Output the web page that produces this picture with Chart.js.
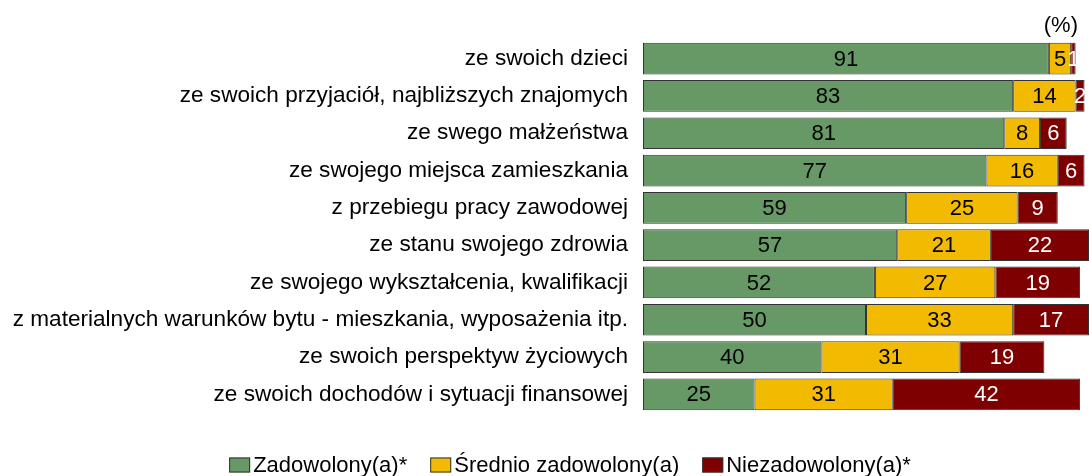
<!DOCTYPE html>
<html>
<head>
<meta charset="utf-8">
<script src="https://cdn.jsdelivr.net/npm/chart.js@4/dist/chart.umd.min.js"></script>
<style>
  html, body { margin: 0; padding: 0; background: #fff; }
  #wrap { width: 1089px; height: 476px; position: relative; }
</style>
</head>
<body>
<div id="wrap"><canvas id="chart"></canvas></div>
<script>
const categories = [
  'ze swoich dzieci',
  'ze swoich przyjaciół, najbliższych znajomych',
  'ze swego małżeństwa',
  'ze swojego miejsca zamieszkania',
  'z przebiegu pracy zawodowej',
  'ze stanu swojego zdrowia',
  'ze swojego wykształcenia, kwalifikacji',
  'z materialnych warunków bytu - mieszkania, wyposażenia itp.',
  'ze swoich perspektyw życiowych',
  'ze swoich dochodów i sytuacji finansowej'
]

const satisfied = [91, 83, 81, 77, 59, 57, 52, 50, 40, 25]
const medium = [5, 14, 8, 16, 25, 21, 27, 33, 31, 31]
const unsatisfied = [1, 2, 6, 6, 9, 22, 19, 17, 19, 42]

const seriesNames = ['Zadowolony(a)*', 'Średnio zadowolony(a)', 'Niezadowolony(a)*']
const colors = ['#669966', '#F2BA00', '#7F0000']
const labelColors = ['#000', '#000', '#fff']
const unitLabel = '(%)'

const FONT = "'Liberation Sans', Arial, sans-serif"

// numbers inside the bars
const barLabels = {
  id: 'barLabels',
  afterDatasetsDraw(chart) {
    const ctx = chart.ctx
    ctx.save()
    ctx.font = '22px ' + FONT
    ctx.textAlign = 'center'
    ctx.textBaseline = 'middle'
    chart.data.datasets.forEach((ds, i) => {
      chart.getDatasetMeta(i).data.forEach((bar, j) => {
        ctx.fillStyle = labelColors[i]
        ctx.fillText(ds.data[j], (bar.x + bar.base) / 2, bar.y + 1)
      })
    })
    ctx.restore()
  }
}

// legend at the bottom + "(%)" at the top right
const extras = {
  id: 'extras',
  afterDraw(chart) {
    const ctx = chart.ctx
    ctx.save()
    ctx.font = '22px ' + FONT
    ctx.fillStyle = '#000'
    ctx.textBaseline = 'middle'
    ctx.textAlign = 'right'
    ctx.fillText(unitLabel, 1078, 26)

    ctx.textAlign = 'left'
    const boxW = 21, boxH = 15, gapText = 3, gapItem = 23
    const items = chart.data.datasets.map(ds => ({
      text: ds.label, color: ds.backgroundColor, w: ctx.measureText(ds.label).width
    }))
    let total = items.reduce((s, it) => s + boxW + gapText + it.w, 0) + gapItem * (items.length - 1)
    let x = 570 - total / 2
    const y = 465
    items.forEach(it => {
      ctx.fillStyle = it.color
      ctx.fillRect(x, y - boxH / 2, boxW, boxH)
      ctx.strokeStyle = '#333'
      ctx.lineWidth = 1
      ctx.strokeRect(x + 0.5, y - boxH / 2 + 0.5, boxW - 1, boxH - 1)
      ctx.fillStyle = '#000'
      ctx.fillText(it.text, x + boxW + gapText, y + 1)
      x += boxW + gapText + it.w + gapItem
    })
    ctx.restore()
  }
}

const values = [satisfied, medium, unsatisfied]

new Chart(document.getElementById('chart'), {
  type: 'bar',
  data: {
    labels: categories,
    datasets: values.map((arr, i) => ({
      label: seriesNames[i],
      data: arr,
      backgroundColor: colors[i],
      borderColor: '#333',
      borderWidth: 1,
      borderSkipped: false,
      barPercentage: 0.85,
      categoryPercentage: 1
    }))
  },
  options: {
    indexAxis: 'y',
    responsive: true,
    maintainAspectRatio: false,
    animation: false,
    layout: { padding: { top: 40, bottom: 63, left: 0, right: 0 } },
    plugins: {
      legend: { display: false },
      tooltip: { enabled: false }
    },
    scales: {
      x: {
        stacked: true,
        min: 0,
        max: 100,
        display: false
      },
      y: {
        stacked: true,
        grid: { display: false, drawTicks: false },
        border: { display: false },
        ticks: {
          color: '#000',
          padding: 15,
          font: { size: 22.6, family: FONT }
        },
        afterFit(scale) { scale.width = 643 }
      }
    }
  },
  plugins: [barLabels, extras]
})
</script>
</body>
</html>
